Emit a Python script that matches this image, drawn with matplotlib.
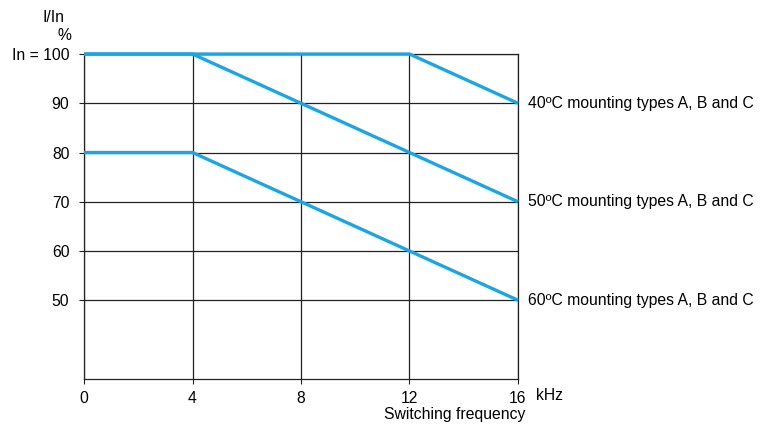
import matplotlib.pyplot as plt

# Data
freq_40 = [0, 12, 16]
pct_40 = [100, 100, 90]
freq_50 = [0, 4, 16]
pct_50 = [100, 100, 70]
freq_60 = [0, 4, 16]
pct_60 = [80, 80, 50]
labels = ['40ºC mounting types A, B and C',
          '50ºC mounting types A, B and C',
          '60ºC mounting types A, B and C']
x_ticks = [0, 4, 8, 12, 16]
y_ticks = [50, 60, 70, 80, 90, 100]
y_ticklabels = ['50', '60', '70', '80', '90', 'In = 100']

plt.rcParams['font.family'] = ['Liberation Sans', 'DejaVu Sans']
blue = '#1ba6e3'
grid_col = '#222222'
fs = 11.3

fig = plt.figure(figsize=(7.7, 4.25), dpi=100)
ax = fig.add_axes([0.1091, 0.1082, 0.5636, 0.7647])

ax.set_xlim(0, 16)
ax.set_ylim(34, 100)
ax.set_xticks(x_ticks)
ax.set_yticks(y_ticks)
ax.set_yticklabels(y_ticklabels)
ax.tick_params(axis='both', labelsize=fs, length=3.5, width=0.8,
               color=grid_col)
ax.tick_params(axis='y', pad=7)
ax.tick_params(axis='x', pad=5)
ax.grid(True, color=grid_col, lw=0.9)
ax.set_axisbelow(True)
for s in ax.spines.values():
    s.set_color(grid_col)
    s.set_linewidth(0.9)

for xs, ys, lab in zip([freq_40, freq_50, freq_60],
                       [pct_40, pct_50, pct_60], labels):
    ax.plot(xs, ys, color=blue, lw=2.4, solid_capstyle='butt', clip_on=False,
            zorder=3)
    ax.annotate(lab, (xs[-1], ys[-1]), xytext=(7.5, 0),
                textcoords='offset points', va='center', ha='left',
                fontsize=fs, annotation_clip=False)

fig.text(54 / 770, 1 - 17 / 425, 'I/In', ha='center', va='center', fontsize=fs)
fig.text(64 / 770, 1 - 35 / 425, '%', ha='center', va='center', fontsize=fs)
fig.text(536 / 770, 1 - 396 / 425, 'kHz', ha='left', va='center', fontsize=fs)
fig.text(455 / 770, 1 - 415 / 425, 'Switching frequency', ha='center',
         va='center', fontsize=fs)

fig.savefig('out.png', dpi=100)
